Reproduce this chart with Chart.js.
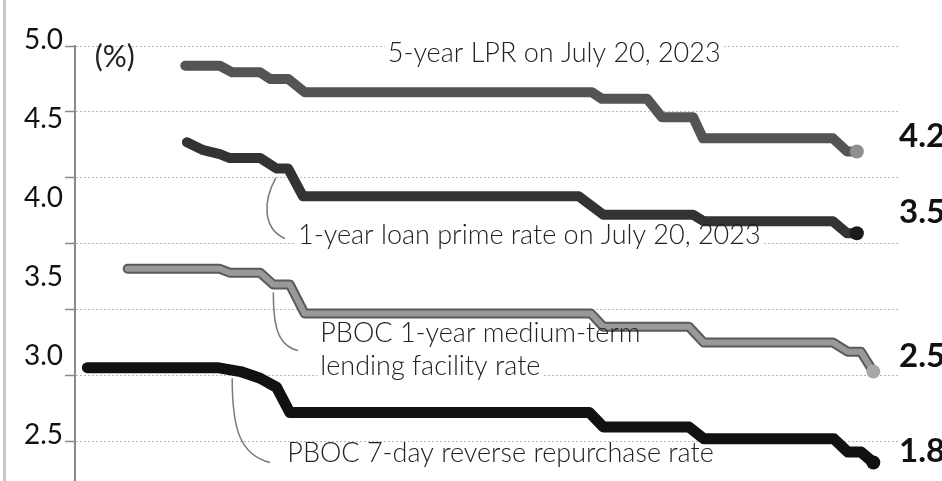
<!DOCTYPE html>
<html>
<head>
<meta charset="utf-8">
<script src="https://cdn.jsdelivr.net/npm/chart.js@4.4.0/dist/chart.umd.min.js"></script>
<style>
  html, body { margin: 0; padding: 0; background: #fff; }
  #wrap { position: relative; width: 942px; height: 481px; }
  #edge { position: absolute; left: 3px; top: 0; width: 3px; height: 481px; background: #c8c8c8; }
</style>
</head>
<body>
<div id="wrap"><div id="edge"></div><canvas id="chart"></canvas></div>
<script>
// x = position along the time line (0-100), y = rate in %
const lpr5Time = [13.4, 17.6, 19.1, 22.5, 23.7, 25.9, 27.9, 62.8, 64.0, 69.5, 71.3, 75.1, 76.3, 92.1, 93.8, 95.0];
const lpr5Rate = [4.85, 4.85, 4.80, 4.80, 4.75, 4.75, 4.65, 4.65, 4.60, 4.60, 4.46, 4.46, 4.30, 4.30, 4.20, 4.20];

const lpr1Time = [13.6, 15.6, 17.6, 18.8, 22.5, 24.5, 25.9, 27.7, 61.2, 64.2, 75.1, 76.4, 92.1, 93.8, 95.0];
const lpr1Rate = [4.27, 4.21, 4.18, 4.15, 4.15, 4.07, 4.07, 3.86, 3.86, 3.72, 3.72, 3.67, 3.67, 3.58, 3.58];

const mlfTime = [6.4, 17.6, 18.8, 22.5, 24.1, 26.1, 27.9, 62.7, 64.2, 74.6, 76.4, 92.1, 93.9, 95.5, 97.0];
const mlfRate = [3.31, 3.31, 3.28, 3.28, 3.19, 3.19, 2.97, 2.97, 2.87, 2.87, 2.75, 2.75, 2.68, 2.68, 2.53];

const repoTime = [1.5, 17.3, 20.1, 22.5, 24.5, 26.1, 62.5, 64.2, 74.6, 76.4, 92.2, 93.9, 95.5, 97.0];
const repoRate = [2.56, 2.56, 2.53, 2.48, 2.41, 2.22, 2.22, 2.11, 2.11, 2.02, 2.02, 1.92, 1.92, 1.84];

const gridValues = [2.0, 2.5, 3.0, 3.5, 4.0, 4.5, 5.0];
const tickLabels = [2.5, 3.0, 3.5, 4.0, 4.5, 5.0];

const endLabels = ['4.2', '3.5', '2.5', '1.8'];
const endLabelY = [4.234, 3.657, 2.565, 1.844];

// text notes (baseline anchored) and leader curves, placed in data units
const notes = [
  { text: '(%)', x: 2.4, y: 4.838, box: false, font: '400 30px Lato' },
  { text: '5-year LPR on July 20, 2023', x: 38.0, y: 4.879, box: true },
  { text: '1-year loan prime rate on July 20, 2023', x: 27.1, y: 3.498, box: true },
  { text: 'PBOC 1-year medium-term', x: 29.8, y: 2.754, box: true },
  { text: 'lending facility rate', x: 29.8, y: 2.504, box: true },
  { text: 'PBOC 7-day reverse repurchase rate', x: 25.8, y: 1.844, box: false }
];
const leaders = [
  [[24.4, 4.00], [22.9, 3.83], [22.7, 3.62], [25.5, 3.54]],
  [[24.1, 3.13], [24.1, 2.91], [24.4, 2.73], [27.1, 2.69]],
  [[19.1, 2.48], [19.1, 2.10], [20.0, 1.90], [23.7, 1.84]]
];

const noteFont = '300 27px Lato';

function toPoints(xs, ys) {
  return xs.map((v, i) => ({ x: v, y: ys[i] }));
}

function lastDot(r) {
  return (c) => c.dataIndex === c.dataset.data.length - 1 ? r : 0;
}

const annotate = {
  id: 'annotate',
  beforeDatasetsDraw(chart) {
    const { ctx, scales: { x, y } } = chart;
    ctx.save();
    ctx.fillStyle = '#fff';
    notes.forEach(n => {
      if (!n.box) return;
      ctx.font = n.font || noteFont;
      const w = ctx.measureText(n.text).width;
      ctx.fillRect(x.getPixelForValue(n.x) - 3, y.getPixelForValue(n.y) - 21, w + 6, 28);
    });
    ctx.strokeStyle = '#7a7a7a';
    ctx.lineWidth = 1.5;
    leaders.forEach(l => {
      const p = l.map(([a, b]) => [x.getPixelForValue(a), y.getPixelForValue(b)]);
      ctx.beginPath();
      ctx.moveTo(p[0][0], p[0][1]);
      ctx.bezierCurveTo(p[1][0], p[1][1], p[2][0], p[2][1], p[3][0], p[3][1]);
      ctx.stroke();
    });
    ctx.restore();
  },
  afterDatasetsDraw(chart) {
    const { ctx, chartArea, scales: { x, y } } = chart;
    ctx.save();
    ctx.textBaseline = 'alphabetic';
    ctx.textAlign = 'left';
    ctx.fillStyle = '#222';
    notes.forEach(n => {
      ctx.font = n.font || noteFont;
      ctx.fillText(n.text, x.getPixelForValue(n.x), y.getPixelForValue(n.y));
    });
    ctx.font = 'bold 33px Lato';
    ctx.fillStyle = '#111';
    endLabels.forEach((t, i) => {
      ctx.fillText(t, chartArea.right + 1, y.getPixelForValue(endLabelY[i]));
    });
    ctx.restore();
  }
};

document.addEventListener('DOMContentLoaded', function() {
  new Chart(document.getElementById('chart'), {
    type: 'line',
    data: {
      datasets: [
        {
          label: '5-year LPR',
          data: toPoints(lpr5Time, lpr5Rate),
          borderColor: '#545454',
          borderWidth: 10,
          pointRadius: lastDot(7),
          pointBackgroundColor: '#8f8f8f',
          pointBorderWidth: 0,
          order: 1
        },
        {
          label: '1-year loan prime rate',
          data: toPoints(lpr1Time, lpr1Rate),
          borderColor: '#333',
          borderWidth: 10,
          pointRadius: lastDot(7),
          pointBackgroundColor: '#1a1a1a',
          pointBorderWidth: 0,
          order: 1
        },
        {
          label: 'MLF outline',
          data: toPoints(mlfTime, mlfRate),
          borderColor: '#5a5a5a',
          borderWidth: 10,
          pointRadius: 0,
          order: 2
        },
        {
          label: 'PBOC 1-year medium-term lending facility rate',
          data: toPoints(mlfTime, mlfRate),
          borderColor: '#999',
          borderWidth: 6,
          pointRadius: lastDot(7),
          pointBackgroundColor: '#a8a8a8',
          pointBorderWidth: 0,
          order: 1
        },
        {
          label: 'PBOC 7-day reverse repurchase rate',
          data: toPoints(repoTime, repoRate),
          borderColor: '#111',
          borderWidth: 11,
          pointRadius: lastDot(7),
          pointBackgroundColor: '#111',
          pointBorderWidth: 0,
          order: 1
        }
      ]
    },
    options: {
      responsive: true,
      maintainAspectRatio: false,
      animation: false,
      elements: {
        line: { tension: 0, borderJoinStyle: 'round', borderCapStyle: 'round' }
      },
      layout: { autoPadding: false, padding: { top: 46, right: 44, left: 0, bottom: 0 } },
      scales: {
        x: { type: 'linear', display: false, min: 0, max: 100 },
        y: {
          position: 'left',
          weight: 0,
          min: 1.70,
          max: 5.0,
          afterBuildTicks: (axis) => { axis.ticks = gridValues.map(v => ({ value: v })); },
          afterFit: (axis) => { axis.width = 10; axis.paddingTop = 0; axis.paddingBottom = 0; },
          ticks: { display: false },
          grid: {
            color: '#b8b8b8',
            lineWidth: 1,
            tickLength: 10,
            tickColor: '#8a8a8a',
            tickWidth: 1.5,
            tickBorderDash: []
          },
          border: { color: '#8a8a8a', width: 2, dash: [2, 2] }
        },
        yLab: {
          position: 'left',
          weight: 10,
          min: 2.247,
          max: 5.0,
          afterBuildTicks: (axis) => { axis.ticks = tickLabels.map(v => ({ value: v })); },
          afterFit: (axis) => { axis.width = 65; axis.paddingTop = 0; axis.paddingBottom = 0; },
          grid: { display: false, drawTicks: false },
          border: { display: false },
          ticks: {
            padding: 2,
            labelOffset: -6,
            color: '#111',
            font: { family: 'Lato', size: 28 },
            callback: (v) => Number(v).toFixed(1)
          }
        }
      },
      plugins: {
        legend: { display: false },
        tooltip: { enabled: false }
      }
    },
    plugins: [annotate]
  });
});
</script>
</body>
</html>
